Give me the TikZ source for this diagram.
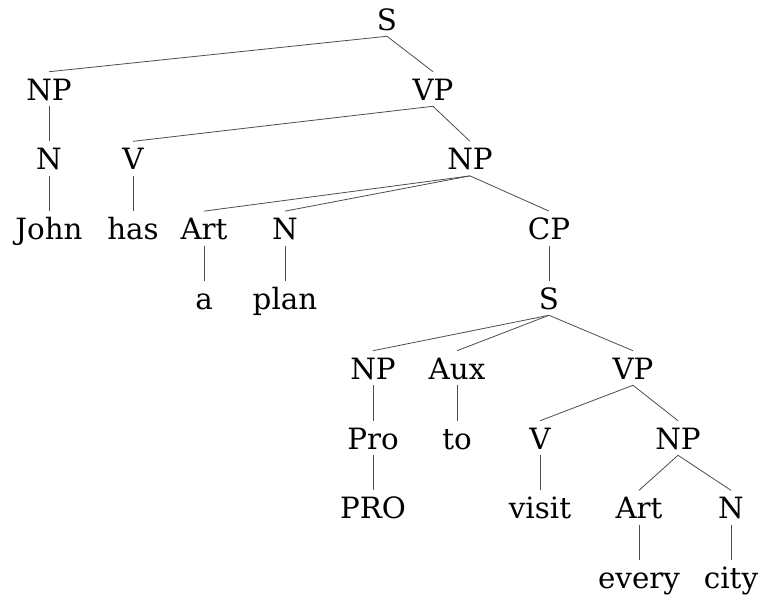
\documentclass[tikz,border=0pt]{standalone}
\usepackage{fontspec}
\setmainfont{DejaVu Serif}
\begin{document}
\begin{tikzpicture}[x=0.75pt,y=-0.75pt,
  lab/.style={anchor=base, inner sep=0pt, text height=21pt, text depth=4.5pt,
              font=\fontsize{22}{26}\selectfont},
  edge/.style={draw=black!70, line width=0.6pt}]
\useasboundingbox (0,0) rectangle (760,604);
% level 0
\node[lab] (s0) at (387,30) {S};
% level 1
\node[lab] (np1) at (49,100) {NP};
\node[lab] (vp1) at (433,100) {VP};
% level 2
\node[lab] (n2) at (49,169.6) {N};
\node[lab] (v2) at (133,169.6) {V};
\node[lab] (np2) at (470,169.6) {NP};
% level 3
\node[lab] (john) at (49,239.4) {John};
\node[lab] (has) at (133,239.4) {has};
\node[lab] (art3) at (204,239.4) {Art};
\node[lab] (n3) at (285,239.4) {N};
\node[lab] (cp3) at (549,239.4) {CP};
% level 4
\node[lab] (a) at (204,309) {a};
\node[lab] (plan) at (285,309) {plan};
\node[lab] (s4) at (549,309) {S};
% level 5
\node[lab] (np5) at (373,379) {NP};
\node[lab] (aux5) at (457,379) {Aux};
\node[lab] (vp5) at (633,379) {VP};
% level 6
\node[lab] (pro6) at (373,449) {Pro};
\node[lab] (to) at (457,449) {to};
\node[lab] (v6) at (540,449) {V};
\node[lab] (np6) at (678,449) {NP};
% level 7
\node[lab] (pro7) at (373,518.6) {PRO};
\node[lab] (visit) at (540,518.6) {visit};
\node[lab] (art7) at (639,518.6) {Art};
\node[lab] (n7) at (731,518.6) {N};
% level 8
\node[lab] (every) at (639,588.4) {every};
\node[lab] (city) at (731,588.4) {city};
% edges
\foreach \p/\c in {s0/np1, s0/vp1, np1/n2, n2/john, vp1/v2, vp1/np2, v2/has,
  np2/art3, np2/n3, np2/cp3, art3/a, n3/plan, cp3/s4,
  s4/np5, s4/aux5, s4/vp5, np5/pro6, pro6/pro7, aux5/to,
  vp5/v6, vp5/np6, v6/visit, np6/art7, np6/n7, art7/every, n7/city}
  \draw[edge] (\p.south) -- (\c.north);
\end{tikzpicture}
\end{document}
